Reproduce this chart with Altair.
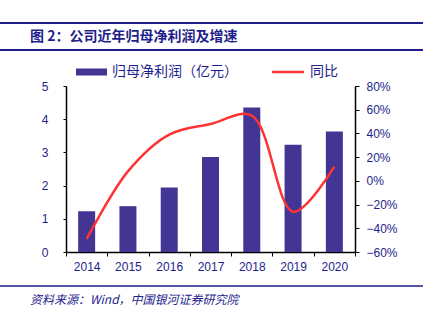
import altair as alt
import pandas as pd

years = ["2014", "2015", "2016", "2017", "2018", "2019", "2020"]
profit = [1.23, 1.38, 1.94, 2.86, 4.35, 3.23, 3.63]
growth = [-0.49, 0.08, 0.39, 0.48, 0.55, -0.26, 0.12]
left_ticks = [0, 1, 2, 3, 4, 5]
right_ticks = [-0.6, -0.4, -0.2, 0.0, 0.2, 0.4, 0.6, 0.8]

title_text = "图 2：公司近年归母净利润及增速"
source_text = "资料来源：Wind，中国银河证券研究院"
legend_bar = "归母净利润（亿元）"
legend_line = "同比"

NAVY = "#1E1E8C"
BAR = "#433594"
RED = "#FF3333"
CJK = "Noto Sans CJK SC"
LAT = "Liberation Sans"

df = pd.DataFrame({"year": years, "profit": profit, "growth": growth})
one = pd.DataFrame({"a": [0]})

W, H = 289, 166

xenc = alt.X(
    "year:N",
    sort=years,
    scale=alt.Scale(paddingInner=0, paddingOuter=0),
    axis=alt.Axis(
        title=None, labelAngle=0, labelFont=LAT, labelFontSize=12, labelColor=NAVY,
        domainColor="black", domainWidth=1.5, tickColor="black", tickSize=4,
        tickBand="extent", labelPadding=5, grid=False,
    ),
)

bars = alt.Chart(df).mark_bar(color=BAR, size=17).encode(
    x=xenc,
    y=alt.Y(
        "profit:Q",
        scale=alt.Scale(domain=[0, 5], nice=False),
        axis=alt.Axis(
            title=None, values=left_ticks, labelFont=LAT, labelFontSize=12, labelColor=NAVY,
            domainColor="black", domainWidth=1.5, tickColor="black", tickSize=3,
            labelPadding=15, grid=False,
        ),
    ),
)

line = alt.Chart(df).mark_line(color=RED, strokeWidth=2.5, interpolate="catmull-rom").encode(
    x=alt.X("year:N", sort=years),
    y=alt.Y(
        "growth:Q",
        scale=alt.Scale(domain=[-0.6, 0.8], nice=False),
        axis=alt.Axis(
            title=None, orient="right", values=right_ticks, format=".0%", labelFont=LAT,
            labelFontSize=12, labelColor=NAVY, domainColor="black", domainWidth=1.5,
            tickColor="black", tickSize=4, labelPadding=7, grid=False,
        ),
    ),
)

def rule(x1, x2, y, color, width):
    return alt.Chart(one).mark_rule(color=color, strokeWidth=width).encode(
        x=alt.value(x1), x2=alt.value(x2), y=alt.value(y)
    )

def text(t, x, y, size, weight="normal", style="normal", color=NAVY, align="left"):
    return alt.Chart(one).mark_text(
        text=t, font=CJK, fontSize=size, fontWeight=weight, fontStyle=style,
        color=color, align=align, baseline="middle",
    ).encode(x=alt.value(x), y=alt.value(y))

ox, oy = 66, 86
deco = [
    rule(0 - ox, 423 - ox, 23 - oy, NAVY, 2),
    rule(0 - ox, 423 - ox, 50 - oy, NAVY, 2),
    text(title_text, 30 - ox, 37 - oy, 14, weight="bold"),
    alt.Chart(one).mark_rule(color=BAR, strokeWidth=7).encode(
        x=alt.value(76 - ox), x2=alt.value(107 - ox), y=alt.value(72 - oy)
    ),
    text(legend_bar, 112 - ox, 72 - oy, 14),
    rule(272 - ox, 304 - ox, 72 - oy, RED, 2.5),
    text(legend_line, 310 - ox, 72 - oy, 14),
    rule(0 - ox, 423 - ox, 286 - oy, NAVY, 1.5),
    text(source_text, 30 - ox, 300 - oy, 12, style="italic"),
]

chart = alt.layer(bars, line, *deco).resolve_scale(y="independent").properties(
    width=W, height=H,
    padding={"left": ox, "top": oy, "right": 431 - ox - W, "bottom": 321 - oy - H},
    autosize=alt.AutoSizeParams(type="none"),
    background="white",
).configure_view(stroke=None)

chart.save("out.html", embed_options={"renderer": "svg", "actions": False})
